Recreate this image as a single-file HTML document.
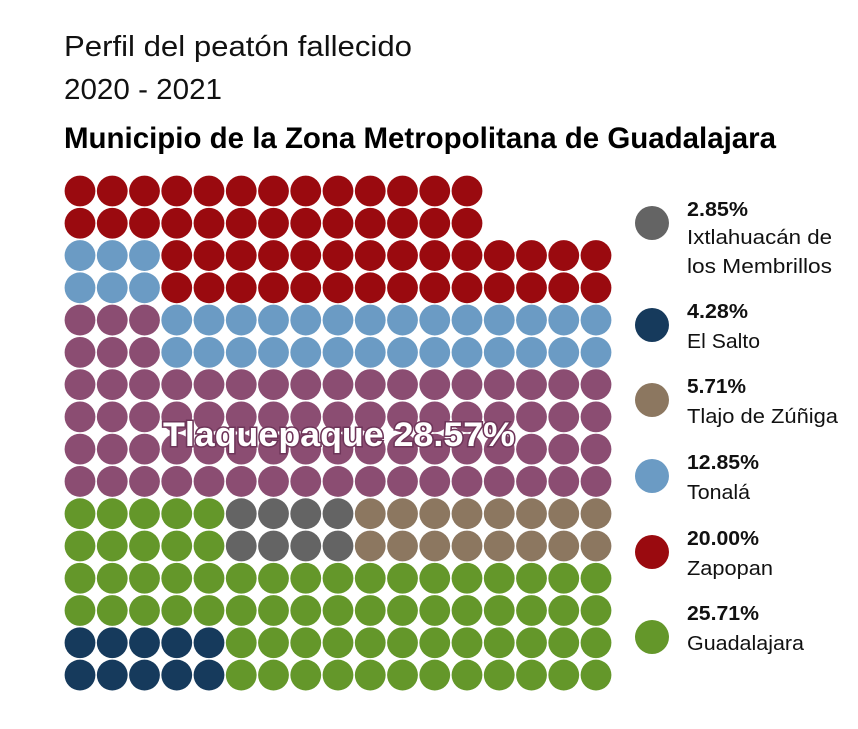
<!DOCTYPE html>
<html><head><meta charset="utf-8"><style>
body{margin:0;background:#fff;}
svg{display:block;font-family:"Liberation Sans Narrow","Liberation Sans",sans-serif;}
</style></head><body>
<svg width="858" height="729" xmlns="http://www.w3.org/2000/svg">
<g lengthAdjust="spacingAndGlyphs">
<text x="64" y="56" font-size="29" fill="#111" textLength="348" lengthAdjust="spacingAndGlyphs">Perfil del peatón fallecido</text>
<text x="64" y="99" font-size="29" fill="#111" textLength="158" lengthAdjust="spacingAndGlyphs">2020 - 2021</text>
<text x="64" y="148" font-size="30" font-weight="bold" fill="#000" textLength="712" lengthAdjust="spacingAndGlyphs">Municipio de la Zona Metropolitana de Guadalajara</text>
</g>
<g id="grid"></g>
<text x="163" y="446" font-size="34" font-weight="bold" fill="#fff" stroke="#6e3559" stroke-width="3" paint-order="stroke" textLength="352" lengthAdjust="spacingAndGlyphs">Tlaquepaque  28.57%</text>
<g font-size="20" fill="#111">
<circle cx="652" cy="223" r="17" fill="#646464"/>
<text x="687" y="216" font-weight="bold" textLength="61" lengthAdjust="spacingAndGlyphs">2.85%</text><text x="687" y="244" textLength="145" lengthAdjust="spacingAndGlyphs">Ixtlahuacán de</text><text x="687" y="273" textLength="145" lengthAdjust="spacingAndGlyphs">los Membrillos</text>
<circle cx="652" cy="325" r="17" fill="#163a5c"/>
<text x="687" y="318" font-weight="bold" textLength="61" lengthAdjust="spacingAndGlyphs">4.28%</text><text x="687" y="348" textLength="73" lengthAdjust="spacingAndGlyphs">El Salto</text>
<circle cx="652" cy="400" r="17" fill="#8c7760"/>
<text x="687" y="393" font-weight="bold" textLength="59" lengthAdjust="spacingAndGlyphs">5.71%</text><text x="687" y="423" textLength="151" lengthAdjust="spacingAndGlyphs">Tlajo de Zúñiga</text>
<circle cx="652" cy="476" r="17" fill="#6b9bc4"/>
<text x="687" y="469" font-weight="bold" textLength="72" lengthAdjust="spacingAndGlyphs">12.85%</text><text x="687" y="499" textLength="63" lengthAdjust="spacingAndGlyphs">Tonalá</text>
<circle cx="652" cy="552" r="17" fill="#9a0a0f"/>
<text x="687" y="545" font-weight="bold" textLength="72" lengthAdjust="spacingAndGlyphs">20.00%</text><text x="687" y="575" textLength="86" lengthAdjust="spacingAndGlyphs">Zapopan</text>
<circle cx="652" cy="637" r="17" fill="#64972a"/>
<text x="687" y="620" font-weight="bold" textLength="72" lengthAdjust="spacingAndGlyphs">25.71%</text><text x="687" y="650" textLength="117" lengthAdjust="spacingAndGlyphs">Guadalajara</text>
</g>
</svg>
<script>
var R='#9a0a0f',B='#6b9bc4',P='#8b4d72',G='#64972a',Y='#646464',N='#163a5c',W='#8c7760';
function row(spec){var a=[];spec.forEach(function(s){for(var i=0;i<s[1];i++)a.push(s[0]);});return a;}
var rows=[row([[R,13]]),row([[R,13]]),row([[B,3],[R,14]]),row([[B,3],[R,14]]),row([[P,3],[B,14]]),row([[P,3],[B,14]]),
row([[P,17]]),row([[P,17]]),row([[P,17]]),row([[P,17]]),
row([[G,5],[Y,4],[W,8]]),row([[G,5],[Y,4],[W,8]]),row([[G,17]]),row([[G,17]]),row([[N,5],[G,12]]),row([[N,5],[G,12]])];
var g=document.getElementById('grid'),h='';
rows.forEach(function(r,j){r.forEach(function(c,i){h+='<circle cx="'+(80+i*32.25)+'" cy="'+(191+j*32.27)+'" r="15.4" fill="'+c+'"/>';});});
g.innerHTML=h;
</script>
</body></html>
